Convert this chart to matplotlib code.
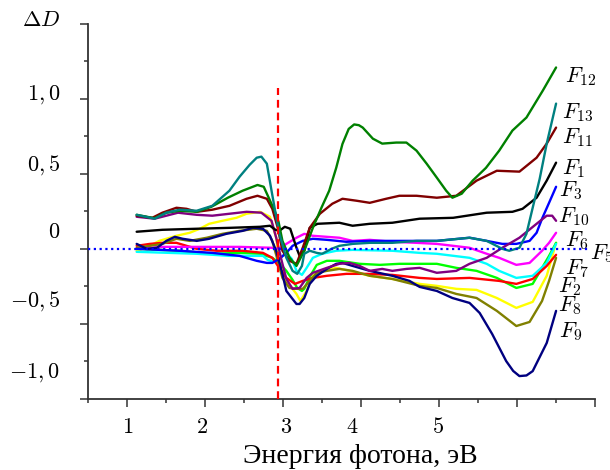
import numpy as np
import matplotlib
matplotlib.use("Agg")
import matplotlib.pyplot as plt
from matplotlib.ticker import MultipleLocator
import matplotlib.transforms as mtransforms

plt.rcParams['mathtext.fontset'] = 'cm'

# Энергия фотона (эВ) и ΔD для каждой кривой
E_F12 = [1.12, 1.35, 1.50, 1.67, 1.89, 2.08, 2.29, 2.48, 2.61, 2.67, 2.75, 2.82, 2.89, 2.94, 2.99,
         3.08, 3.17, 3.27, 3.38, 3.49, 3.59, 3.68, 3.76, 3.84, 3.91, 3.97, 4.02, 4.15, 4.27, 4.45,
         4.58, 4.71, 4.84, 4.97, 5.09, 5.17, 5.29, 5.43, 5.60, 5.77, 5.94, 6.12, 6.33, 6.50]
D_F12 = [0.227, 0.204, 0.241, 0.254, 0.247, 0.281, 0.341, 0.388, 0.414, 0.426, 0.414, 0.334, 0.254,
         0.180, 0.053, -0.058, -0.114, -0.013, 0.140, 0.274, 0.388, 0.541, 0.700, 0.800, 0.830,
         0.825, 0.809, 0.735, 0.702, 0.709, 0.709, 0.655, 0.568, 0.475, 0.388, 0.341, 0.368,
         0.455, 0.540, 0.655, 0.789, 0.876, 1.056, 1.21]

E_F13 = [1.12, 1.35, 1.50, 1.67, 1.89, 2.09, 2.31, 2.44, 2.57, 2.66, 2.72, 2.79, 2.85, 2.91, 2.95,
         3.04, 3.12, 3.18, 3.24, 3.27, 3.34, 3.43, 3.50, 3.62, 3.72, 3.89, 4.11, 4.40, 4.71, 4.97,
         5.39, 5.61, 5.81, 5.90, 6.03, 6.12, 6.20, 6.29, 6.38, 6.50]
D_F13 = [0.227, 0.201, 0.241, 0.261, 0.254, 0.287, 0.388, 0.481, 0.561, 0.608, 0.615, 0.568, 0.388,
         0.214, 0.100, -0.060, -0.147, -0.167, -0.114, -0.033, -0.013, -0.027, -0.033, 0.0, 0.020,
         0.033, 0.040, 0.040, 0.053, 0.053, 0.074, 0.053, 0.0, -0.013, 0.007, 0.100, 0.274, 0.468,
         0.702, 0.969]

E_F11 = [1.12, 1.32, 1.45, 1.63, 1.76, 1.89, 2.09, 2.31, 2.53, 2.67, 2.79, 2.86, 2.93, 2.99, 3.08,
         3.17, 3.25, 3.34, 3.47, 3.63, 3.76, 3.94, 4.11, 4.32, 4.49, 4.71, 4.97, 5.22, 5.48, 5.74,
         6.03, 6.25, 6.38, 6.50]
D_F11 = [0.221, 0.207, 0.241, 0.274, 0.267, 0.247, 0.261, 0.287, 0.334, 0.354, 0.334, 0.267, 0.140,
         -0.013, -0.080, -0.100, 0.007, 0.140, 0.234, 0.301, 0.334, 0.321, 0.307, 0.334, 0.354,
         0.354, 0.341, 0.354, 0.455, 0.521, 0.515, 0.608, 0.702, 0.809]

E_F1 = [1.12, 1.45, 1.89, 2.31, 2.70, 2.83, 2.90, 2.95, 3.02, 3.09, 3.17, 3.21, 3.27, 3.34, 3.44,
        3.72, 3.89, 4.11, 4.40, 4.75, 5.18, 5.61, 5.94, 6.07, 6.25, 6.38, 6.50]
D_F1 = [0.114, 0.127, 0.134, 0.140, 0.147, 0.154, 0.127, 0.120, 0.147, 0.134, 0.007, -0.047, -0.013,
        0.140, 0.167, 0.174, 0.154, 0.167, 0.174, 0.201, 0.207, 0.241, 0.247, 0.267, 0.341, 0.455,
        0.575]

E_F3 = [1.12, 1.42, 1.67, 2.09, 2.44, 2.66, 2.79, 2.86, 2.95, 3.04, 3.12, 3.25, 3.38, 3.56, 3.81,
        4.11, 4.53, 4.97, 5.39, 5.61, 5.81, 5.99, 6.16, 6.25, 6.32, 6.41, 6.50]
D_F3 = [0.0, -0.007, -0.013, -0.027, -0.047, -0.080, -0.094, -0.094, -0.067, -0.027, 0.020, 0.053,
        0.067, 0.060, 0.047, 0.053, 0.053, 0.053, 0.074, 0.053, 0.033, 0.033, 0.053, 0.107, 0.201,
        0.307, 0.414]

E_F10 = [1.12, 1.35, 1.65, 1.89, 2.09, 2.31, 2.53, 2.72, 2.85, 2.91, 2.98, 3.04, 3.12, 3.21, 3.30,
         3.38, 3.56, 3.72, 3.85, 3.98, 4.11, 4.27, 4.40, 4.58, 4.75, 4.97, 5.22, 5.39, 5.61, 5.81,
         6.03, 6.25, 6.38, 6.45, 6.50]
D_F10 = [0.214, 0.201, 0.241, 0.227, 0.221, 0.234, 0.247, 0.241, 0.187, 0.074, -0.080, -0.201,
         -0.267, -0.261, -0.194, -0.160, -0.127, -0.100, -0.094, -0.114, -0.147, -0.134, -0.147,
         -0.134, -0.127, -0.160, -0.147, -0.100, -0.060, 0.007, 0.074, 0.167, 0.221, 0.221, 0.187]

E_F6 = [1.12, 1.45, 1.93, 2.44, 2.86, 2.95, 3.04, 3.17, 3.27, 3.38, 3.56, 3.72, 3.89, 4.11, 4.40,
        4.71, 4.97, 5.39, 5.61, 5.77, 5.99, 6.16, 6.32, 6.41, 6.50]
D_F6 = [0.0, 0.013, 0.013, 0.013, 0.007, 0.0, 0.033, 0.074, 0.100, 0.087, 0.080, 0.074, 0.053, 0.060,
        0.047, 0.040, 0.033, 0.007, -0.033, -0.060, -0.107, -0.094, -0.013, 0.040, 0.107]

E_F7 = [1.12, 1.54, 1.89, 2.31, 2.74, 2.80, 2.88, 2.95, 3.04, 3.11, 3.17, 3.24, 3.30, 3.38, 3.50,
        3.68, 3.89, 4.40, 4.75, 4.97, 5.39, 5.61, 5.77, 5.99, 6.20, 6.38, 6.50]
D_F7 = [-0.020, -0.027, -0.033, -0.047, -0.047, -0.074, -0.087, -0.067, -0.027, -0.067, -0.147,
        -0.174, -0.127, -0.060, -0.033, -0.013, -0.007, -0.013, -0.027, -0.033, -0.060, -0.100,
        -0.147, -0.194, -0.180, -0.094, 0.033]

E_F2 = [1.12, 1.67, 2.09, 2.44, 2.70, 2.86, 2.95, 3.04, 3.12, 3.18, 3.24, 3.27, 3.34, 3.43, 3.56,
        3.72, 3.98, 4.24, 4.49, 4.75, 4.97, 5.22, 5.48, 5.74, 5.99, 6.20, 6.32, 6.41, 6.50]
D_F2 = [0.0, -0.013, -0.033, -0.027, -0.033, -0.060, -0.094, -0.147, -0.207, -0.261, -0.281,
        -0.267, -0.187, -0.107, -0.080, -0.080, -0.100, -0.107, -0.100, -0.100, -0.100, -0.127,
        -0.147, -0.194, -0.261, -0.234, -0.127, -0.047, 0.040]

E_F5 = [1.12, 1.29, 1.45, 1.63, 1.76, 1.89, 2.15, 2.48, 2.74, 2.86, 2.95, 3.04, 3.15, 3.25, 3.38,
        3.56, 3.81, 4.07, 4.40, 4.75, 4.97, 5.39, 5.77, 5.99, 6.20, 6.38, 6.50]
D_F5 = [0.020, 0.033, 0.040, 0.040, 0.020, 0.0, -0.013, -0.013, -0.027, -0.060, -0.127, -0.194,
        -0.234, -0.214, -0.194, -0.180, -0.167, -0.167, -0.174, -0.194, -0.201, -0.194, -0.214,
        -0.234, -0.201, -0.114, -0.040]

E_F8 = [1.12, 1.29, 1.41, 1.63, 1.80, 1.93, 2.05, 2.22, 2.40, 2.53, 2.70, 2.83, 2.91, 2.95, 3.04,
        3.17, 3.22, 3.30, 3.38, 3.50, 3.68, 3.85, 4.11, 4.40, 4.75, 4.97, 5.22, 5.48, 5.74, 5.99,
        6.20, 6.38, 6.50]
D_F8 = [-0.013, 0.020, 0.053, 0.087, 0.107, 0.134, 0.167, 0.187, 0.207, 0.234, 0.247, 0.214, 0.074,
        -0.094, -0.214, -0.301, -0.348, -0.281, -0.180, -0.147, -0.127, -0.147, -0.180, -0.201,
        -0.234, -0.247, -0.267, -0.274, -0.328, -0.394, -0.354, -0.180, 0.040]

E_F4 = [1.12, 1.45, 1.63, 1.80, 2.02, 2.22, 2.44, 2.66, 2.79, 2.86, 2.93, 2.99, 3.08, 3.18, 3.25,
        3.34, 3.43, 3.56, 3.72, 3.89, 4.11, 4.40, 4.75, 4.97, 5.22, 5.48, 5.74, 5.99, 6.16, 6.32,
        6.41, 6.50]
D_F4 = [0.007, 0.033, 0.067, 0.053, 0.074, 0.100, 0.120, 0.134, 0.120, 0.053, -0.080, -0.194,
        -0.261, -0.267, -0.267, -0.214, -0.160, -0.147, -0.134, -0.147, -0.180, -0.201, -0.247,
        -0.261, -0.301, -0.328, -0.414, -0.515, -0.488, -0.348, -0.214, -0.060]

E_F9 = [1.12, 1.25, 1.38, 1.50, 1.61, 1.71, 1.89, 2.05, 2.27, 2.48, 2.61, 2.74, 2.83, 2.91, 2.98,
        3.04, 3.17, 3.21, 3.27, 3.34, 3.43, 3.56, 3.68, 3.76, 3.89, 4.11, 4.40, 4.62, 4.75, 4.97,
        5.17, 5.39, 5.52, 5.68, 5.86, 5.95, 6.03, 6.12, 6.20, 6.38, 6.50]
D_F9 = [0.033, 0.0, 0.007, 0.053, 0.080, 0.067, 0.053, 0.067, 0.100, 0.120, 0.140, 0.134, 0.087,
        -0.013, -0.147, -0.281, -0.368, -0.368, -0.328, -0.234, -0.180, -0.134, -0.100, -0.094,
        -0.114, -0.147, -0.180, -0.214, -0.254, -0.281, -0.328, -0.361, -0.428, -0.568, -0.749,
        -0.815, -0.849, -0.845, -0.816, -0.628, -0.414]

# порядок отрисовки: снизу вверх
curves = [
    (E_F8, D_F8, '#FFFF00'),
    (E_F2, D_F2, '#00FF00'),
    (E_F7, D_F7, '#00FFFF'),
    (E_F5, D_F5, '#FF0000'),
    (E_F6, D_F6, '#FF00FF'),
    (E_F4, D_F4, '#808000'),
    (E_F3, D_F3, '#0000FF'),
    (E_F9, D_F9, '#000080'),
    (E_F10, D_F10, '#800080'),
    (E_F1, D_F1, '#000000'),
    (E_F11, D_F11, '#800000'),
    (E_F12, D_F12, '#008000'),
    (E_F13, D_F13, '#008080'),
]

# подписи кривых
label_names = ['12', '13', '11', '1', '3', '10', '6', '5', '7', '2', '8', '9']
label_E = [6.62, 6.58, 6.57, 6.57, 6.54, 6.52, 6.61, 6.93, 6.61, 6.53, 6.52, 6.54]
label_D = [1.11, 0.869, 0.702, 0.501, 0.354, 0.176, 0.02, -0.067, -0.167, -0.292, -0.414, -0.593]

# подписи осей
ytick_text = ['1,0', '0,5', '0', '-0,5', '-1,0']
ytick_pos = [1.03, 0.56, 0.114, -0.35, -0.827]
xtick_text = ['1', '2', '3', '4', '5']
xtick_pos = [1.0, 1.96, 3.04, 3.89, 4.98]

edge_E = 2.93       # красная штриховая линия
edge_D = [-1.0, 1.07]
zero_E = [0.5, 6.93]
zero_D = [0.0, 0.0]


fig = plt.figure(figsize=(6.1, 4.7), dpi=100)
ax = fig.add_axes([0.1448, 0.1517, 0.8307, 0.7972])

for E, D, c in curves:
    ax.plot(E, D, color=c, lw=1.7, solid_capstyle='round', solid_joinstyle='round')

ax.plot(zero_E, zero_D, color='#0000FF', lw=1.6, linestyle=(0, (1, 1.6)), zorder=5, clip_on=False)
ax.plot([edge_E, edge_E], edge_D, color='#FF0000', lw=1.6, linestyle=(0, (3.5, 2.2)), zorder=6)

ax.set_xlim(0.5, 7.0)
ax.set_ylim(-1.0, 1.5)

for s in ['top', 'right']:
    ax.spines[s].set_visible(False)
for s in ['left', 'bottom']:
    ax.spines[s].set_color('#333333')
    ax.spines[s].set_linewidth(1.3)

ax.xaxis.set_major_locator(MultipleLocator(1.0))
ax.xaxis.set_minor_locator(MultipleLocator(0.5))
ax.yaxis.set_major_locator(MultipleLocator(0.5))
ax.yaxis.set_minor_locator(MultipleLocator(0.25))
ax.tick_params(which='major', direction='out', length=6, width=1.1, color='#333333',
               labelbottom=False, labelleft=False)
ax.tick_params(which='minor', direction='out', length=3, width=1.1, color='#333333')

ytr = mtransforms.blended_transform_factory(ax.transAxes, ax.transData)
for t, y in zip(ytick_text, ytick_pos):
    ax.text(-0.056, y, r'$%s$' % t, transform=ytr, ha='right', va='center', fontsize=16)

xtr = mtransforms.blended_transform_factory(ax.transData, ax.transAxes)
for t, x in zip(xtick_text, xtick_pos):
    ax.text(x, -0.0755, r'$%s$' % t, transform=xtr, ha='center', va='center', fontsize=16)

for n, x, y in zip(label_names, label_E, label_D):
    ax.text(x, y, r'$F_{%s}$' % n, ha='left', va='baseline', fontsize=16, clip_on=False)

fig.text(0.067, 0.957, r'$\Delta D$', ha='center', va='center', fontsize=16)
fig.text(0.590, 0.0149, 'Энергия фотона, эВ', ha='center', va='baseline',
         fontsize=20, family='Liberation Serif')

fig.savefig('out.png', dpi=100)
